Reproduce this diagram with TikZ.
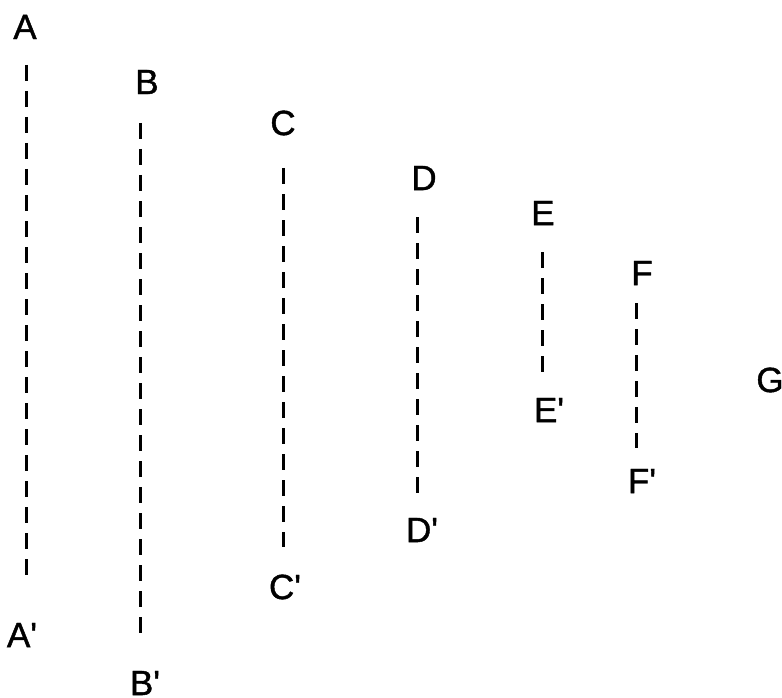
\documentclass[tikz,border=0pt]{standalone}
\usepackage{fontspec}
\setmainfont{Liberation Sans}
\newfontfamily\lblfont{Liberation Sans}[FakeBold=1.2]
\usetikzlibrary{positioning}

\begin{document}
\begin{tikzpicture}[
  x=1pt, y=-1pt,
  lbl/.style={inner sep=0pt, font=\lblfont\fontsize{35}{40}\selectfont},
  guide/.style={line width=3pt, dash pattern=on 16pt off 10pt}
]
\useasboundingbox (0,0) rectangle (782,698);
% top and bottom labels
\node[lbl] (A)  at (25,27)  {A};
\node[lbl] (A') at (22,635) {A\textquotesingle};
\node[lbl] (B)  at (147,82) {B};
\node[lbl] (B') at (145,683) {B\textquotesingle};
\node[lbl] (C)  at (283,123) {C};
\node[lbl] (C') at (285,587) {C\textquotesingle};
\node[lbl] (D)  at (424,178) {D};
\node[lbl] (D') at (422,530) {D\textquotesingle};
\node[lbl] (E)  at (543,213) {E};
\node[lbl] (E') at (549,410) {E\textquotesingle};
\node[lbl] (F)  at (642,273) {F};
\node[lbl] (F') at (642,481) {F\textquotesingle};
\node[lbl] (G)  at (770,380) {G};
% line ends
\coordinate (a1) at (26,65);  \coordinate (a2) at (26,580);
\coordinate (b1) at (140,123); \coordinate (b2) at (140,639);
\coordinate (c1) at (283,168); \coordinate (c2) at (283,547);
\coordinate (d1) at (417,217); \coordinate (d2) at (417,497);
\coordinate (e1) at (542,252); \coordinate (e2) at (542,375);
\coordinate (f1) at (636,303); \coordinate (f2) at (636,448);
\draw[guide] (a1) -- (a2);
\draw[guide] (b1) -- (b2);
\draw[guide] (c1) -- (c2);
\draw[guide] (d1) -- (d2);
\draw[guide] (e1) -- (e2);
\draw[guide] (f1) -- (f2);
\end{tikzpicture}
\end{document}
